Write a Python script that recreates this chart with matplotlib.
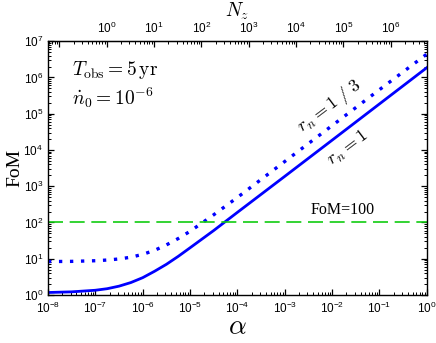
import numpy as np
import matplotlib
matplotlib.use('Agg')
import matplotlib.pyplot as plt
from matplotlib.ticker import LogLocator, NullFormatter, FixedLocator, FixedFormatter

plt.rcParams['font.family'] = ['Liberation Sans', 'DejaVu Sans']
plt.rcParams['mathtext.fontset'] = 'custom'
plt.rcParams['mathtext.rm'] = 'Liberation Sans'

# values (alpha given as log10)
log_alpha = [-8, -7.5, -7, -6.75, -6.5, -6.25, -6,
             -5.75, -5.5, -5.25, -5, -4.5, -4, -3, -2, -1, 0]
fom_rn1 = [1.17, 1.22, 1.35, 1.49, 1.75, 2.2, 3.0,
           4.5, 7.0, 11.6, 20, 60, 190, 1.87e3, 1.86e4, 1.86e5, 1.86e6]
fom_rn3 = [8.35, 8.45, 8.8, 9.2, 9.85, 11.0, 13.2,
           17, 24, 36, 57, 163, 490, 4.8e3, 4.7e4, 4.6e5, 4.4e6]
fom_target = 100
x_ticks = [1e-8, 1e-7, 1e-6, 1e-5, 1e-4, 1e-3, 1e-2, 1e-1, 1e0]
y_ticks = [1e0, 1e1, 1e2, 1e3, 1e4, 1e5, 1e6, 1e7]
nz_per_alpha = 10**6.76
nz_ticks = [1e-1, 1e0, 1e1, 1e2, 1e3, 1e4, 1e5, 1e6]
nz_labels = ['', '$10^{0}$', '$10^{1}$', '$10^{2}$', '$10^{3}$', '$10^{4}$', '$10^{5}$', '$10^{6}$']

alpha = 10.0 ** np.array(log_alpha)

fig = plt.figure(figsize=(4.36, 3.43), dpi=100)
ax = fig.add_axes([0.110, 0.140, 0.869, 0.740])

ax.plot(alpha, fom_rn1, color='#0000ff', lw=2.0)
ax.plot(alpha, fom_rn3, color='#0000ff', lw=2.4, linestyle=(0, (1, 2.3)))
ax.axhline(fom_target, color='#11cc11', lw=1.2, dashes=(9, 4))

ax.set_xscale('log')
ax.set_yscale('log')
ax.set_xlim(1e-8, 1)
ax.set_ylim(1, 1e7)
ax.xaxis.set_major_locator(FixedLocator(x_ticks))
ax.xaxis.set_minor_locator(LogLocator(base=10, subs=np.arange(2, 10), numticks=20))
ax.yaxis.set_major_locator(FixedLocator(y_ticks))
ax.yaxis.set_minor_locator(LogLocator(base=10, subs=np.arange(2, 10), numticks=20))
ax.xaxis.set_minor_formatter(NullFormatter())
ax.yaxis.set_minor_formatter(NullFormatter())
ax.tick_params(which='both', direction='in', right=True, top=False, labelsize=8.5)
ax.tick_params(which='major', length=4, width=0.9)
ax.tick_params(which='minor', length=2, width=0.7)
ax.tick_params(axis='x', pad=4)
for s in ax.spines.values():
    s.set_linewidth(1.0)

sec = ax.secondary_xaxis('top', functions=(lambda a: a * nz_per_alpha, lambda n: n / nz_per_alpha))
sec.xaxis.set_major_locator(FixedLocator(nz_ticks))
sec.xaxis.set_major_formatter(FixedFormatter(nz_labels))
sec.xaxis.set_minor_locator(LogLocator(base=10, subs=np.arange(2, 10), numticks=20))
sec.xaxis.set_minor_formatter(NullFormatter())
sec.tick_params(which='both', direction='in', labelsize=8.5)
sec.tick_params(which='major', length=4, width=0.9)
sec.tick_params(which='minor', length=2, width=0.7)
sec.set_xlabel('$N_z$', fontsize=14, math_fontfamily='cm', labelpad=3)

ax.set_xlabel(r'$\alpha$', fontsize=20, math_fontfamily='cm', labelpad=-1)
ax.set_ylabel('FoM', fontsize=14, family='Liberation Serif', labelpad=0)

ax.text(0.063, 0.886, r'$T_{\rm obs} = 5\,{\rm yr}$', transform=ax.transAxes,
        fontsize=14, math_fontfamily='cm', va='center')
ax.text(0.063, 0.776, r'$\dot{n}_0 = 10^{-6}$', transform=ax.transAxes,
        fontsize=14, math_fontfamily='cm', va='center')
ax.text(0.745, 0.745, r'$r_n = 1\ /\ 3$', transform=ax.transAxes, rotation=37,
        fontsize=13, math_fontfamily='cm', ha='center', va='center')
ax.text(0.792, 0.578, r'$r_n = 1$', transform=ax.transAxes, rotation=37,
        fontsize=13, math_fontfamily='cm', ha='center', va='center')
ax.text(0.778, 0.335, 'FoM=100', transform=ax.transAxes, fontsize=11.5,
        family='Liberation Serif', ha='center', va='center')

fig.savefig('out.png', dpi=100)
